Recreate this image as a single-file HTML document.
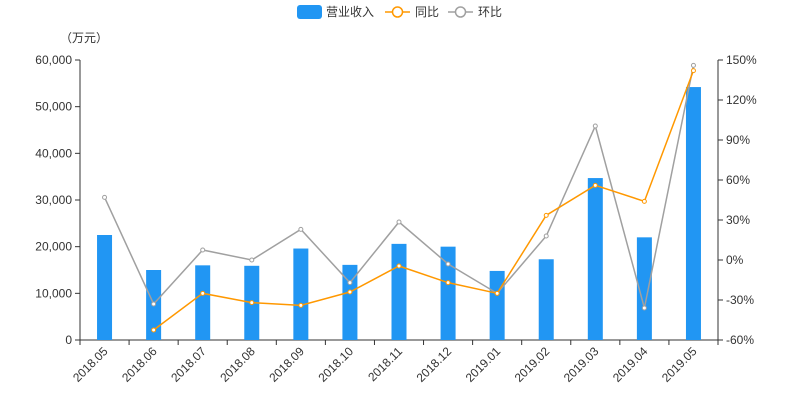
<!DOCTYPE html>
<html><head><meta charset="utf-8"><style>
body{margin:0;background:#fff;}
svg{display:block;font-family:"Liberation Sans","Noto Sans CJK SC",sans-serif;}
</style></head><body>
<svg id="c" width="800" height="400"></svg>
<script>
const categories=["2018.05","2018.06","2018.07","2018.08","2018.09","2018.10","2018.11","2018.12","2019.01","2019.02","2019.03","2019.04","2019.05"];
const revenue=[22500,15000,16000,15900,19600,16100,20600,20000,14800,17300,34700,22000,54200];
const yoy=[null,-52.5,-25,-32,-34,-24,-4.5,-17,-25,33.5,56,44,142];
const mom=[47,-33,7.5,0,23,-17,28.5,-3,-25,18,100.5,-36,146];
const leftTicks=[0,10000,20000,30000,40000,50000,60000];
const rightTicks=[-60,-30,0,30,60,90,120,150];
const NS="http://www.w3.org/2000/svg";
const svg=document.getElementById('c');
const X0=80,X1=718,Y0=340,Y1=60;
const bw=(X1-X0)/categories.length;
const xC=i=>X0+bw*(i+0.5);
const yL=v=>Y0-(v/60000)*(Y0-Y1);
const yR=v=>Y0-((v+60)/210)*(Y0-Y1);
function mk(t,a,p){const e=document.createElementNS(NS,t);for(const k in a)e.setAttribute(k,a[k]);(p||svg).appendChild(e);return e;}
function fmt(n){return n.toLocaleString('en-US');}
// axes
let e;
e=mk('line',{x1:X0,y1:Y1,x2:X0,y2:Y0,stroke:'#333'});


e=mk('line',{x1:X1,y1:Y1,x2:X1,y2:Y0,stroke:'#333'});


e=mk('line',{x1:X0,y1:Y0,x2:X1,y2:Y0,stroke:'#333'});


leftTicks.forEach(v=>{
 mk('line',{x1:X0-5,y1:yL(v),x2:X0,y2:yL(v),stroke:'#333'});
 e=mk('text',{x:X0-8,y:yL(v)+4,'text-anchor':'end','font-size':12,fill:'#333'});
 e.textContent=fmt(v);
 
 
});
rightTicks.forEach(v=>{
 mk('line',{x1:X1,y1:yR(v),x2:X1+5,y2:yR(v),stroke:'#333'});
 e=mk('text',{x:X1+8,y:yR(v)+4,'font-size':12,fill:'#333'});
 e.textContent=v+'%';
 
 
});
e=mk('text',{x:60,y:42,'font-size':12,fill:'#333'});
e.textContent='（万元）';


categories.forEach((c,i)=>{
 mk('line',{x1:X0+bw*i,y1:Y0,x2:X0+bw*i,y2:Y0+5,stroke:'#333'});
 const x=xC(i),y=Y0+12;
 e=mk('text',{x:x+4,y:y,'text-anchor':'end','font-size':12,fill:'#333',transform:`rotate(-45 ${x+4} ${y})`});
 e.textContent=c;
 
 
});
mk('line',{x1:X1,y1:Y0,x2:X1,y2:Y0+5,stroke:'#333'});
// bars
revenue.forEach((v,i)=>{
 e=mk('rect',{x:xC(i)-7.5,y:yL(v),width:15,height:Y0-yL(v),fill:'#2196f3'});
 
 
});
function line(arr,color,name){
 const pts=arr.map((v,i)=>v==null?null:[xC(i),yR(v)]).filter(p=>p);
 e=mk('polyline',{points:pts.map(p=>p.join(',')).join(' '),fill:'none',stroke:color,'stroke-width':1.5});
 
 
 pts.forEach(p=>{
  e=mk('circle',{cx:p[0],cy:p[1],r:2,fill:'#fff',stroke:color,'stroke-width':1});
  
  
 });
}
line(mom,'#a0a0a0','mom');
line(yoy,'#ff9800','yoy');
// legend
const lg=mk('g',{});


e=mk('rect',{x:297,y:5,width:25,height:14,rx:3,fill:'#2196f3'},lg);


e=mk('text',{x:326,y:16,'font-size':12,fill:'#333'},lg);e.textContent='营业收入';


[[385,'#ff9800','同比','yoy'],[448,'#a0a0a0','环比','mom']].forEach(([x,c,t,n])=>{
 mk('line',{x1:x,y1:12,x2:x+25,y2:12,stroke:c,'stroke-width':1.5},lg);
 e=mk('circle',{cx:x+12.5,cy:12,r:5,fill:'#fff',stroke:c,'stroke-width':1.5},lg);
 
 
 e=mk('text',{x:x+30,y:16,'font-size':12,fill:'#333'},lg);e.textContent=t;
 
 
});
</script>
</body></html>
